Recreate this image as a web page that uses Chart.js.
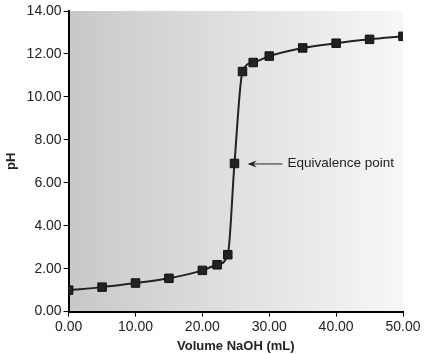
<!DOCTYPE html>
<html>
<head>
<meta charset="utf-8">
<script src="https://cdn.jsdelivr.net/npm/chart.js@4"></script>
<style>
  html, body { margin: 0; padding: 0; background: #fff; }
  #wrap { width: 424px; height: 354px; }
</style>
</head>
<body>
<div id="wrap"><canvas id="chart" width="424" height="354"></canvas></div>
<script>
const volumes = [0, 5, 10, 15, 20, 22.2, 23.8, 24.8, 26, 27.6, 30, 35, 40, 45, 50]
const phValues = [1.0, 1.14, 1.33, 1.55, 1.92, 2.18, 2.65, 6.9, 11.18, 11.6, 11.9, 12.28, 12.5, 12.68, 12.82]
const xTicks = [0, 10, 20, 30, 40, 50]
const yTicks = [0, 2, 4, 6, 8, 10, 12, 14]
const equivalenceIndex = 7
const equivalenceLabel = 'Equivalence point'

const tickFont = { family: 'Liberation Sans, Arial, sans-serif', size: 14 }
const titleFont = { family: 'Liberation Sans, Arial, sans-serif', size: 13, weight: 'bold' }

const shadedArea = {
  id: 'shadedArea',
  beforeDraw(chart) {
    const { ctx, chartArea: a } = chart
    const g = ctx.createLinearGradient(a.left, 0, a.right, 0)
    g.addColorStop(0, '#c8c8c8')
    g.addColorStop(0.5, '#e0e0e0')
    g.addColorStop(1, '#f7f7f7')
    ctx.save()
    ctx.fillStyle = g
    ctx.fillRect(a.left, a.top, a.right - a.left, a.bottom - a.top)
    ctx.restore()
  },
}

const equivalenceNote = {
  id: 'equivalenceNote',
  afterDatasetsDraw(chart) {
    const { ctx, scales } = chart
    const px = scales.x.getPixelForValue(volumes[equivalenceIndex])
    const py = scales.y.getPixelForValue(phValues[equivalenceIndex])
    const tip = px + 13
    const tail = px + 48
    ctx.save()
    ctx.strokeStyle = '#222'
    ctx.fillStyle = '#222'
    ctx.lineWidth = 1
    ctx.beginPath()
    ctx.moveTo(tip + 3, py + 0.5)
    ctx.lineTo(tail, py + 0.5)
    ctx.stroke()
    ctx.beginPath()
    ctx.moveTo(tip, py + 0.5)
    ctx.lineTo(tip + 9, py - 3)
    ctx.lineTo(tip + 6, py + 0.5)
    ctx.lineTo(tip + 9, py + 4)
    ctx.closePath()
    ctx.fill()
    ctx.font = '13.5px Liberation Sans, Arial, sans-serif'
    ctx.textBaseline = 'middle'
    ctx.fillText(equivalenceLabel, tail + 5, py)
    ctx.restore()
  },
}

new Chart(document.getElementById('chart').getContext('2d'), {
  type: 'line',
  data: {
    datasets: [
      {
        data: volumes.map((v, i) => ({ x: v, y: phValues[i] })),
        borderColor: '#222',
        backgroundColor: '#222',
        borderWidth: 2,
        pointStyle: 'rect',
        pointRadius: 6,
        pointBorderWidth: 1,
        pointBorderColor: '#111',
        cubicInterpolationMode: 'monotone',
      },
    ],
  },
  options: {
    responsive: false,
    animation: false,
    layout: { padding: { top: 11, right: 21, left: 4, bottom: 0 } },
    plugins: { legend: { display: false }, tooltip: { enabled: false } },
    scales: {
      x: {
        type: 'linear',
        min: 0,
        max: 50,
        afterBuildTicks: axis => { axis.ticks = xTicks.map(v => ({ value: v })) },
        ticks: { color: '#222', font: tickFont, padding: 2, maxRotation: 0, callback: v => v.toFixed(2) },
        grid: { display: true, drawOnChartArea: false, drawTicks: true, tickLength: 5, color: '#000' },
        border: { display: true, color: '#000', width: 2 },
        title: { display: true, text: 'Volume NaOH (mL)', color: '#222', font: titleFont, padding: { top: 1, bottom: 0 } },
      },
      y: {
        type: 'linear',
        min: 0,
        max: 14,
        afterBuildTicks: axis => { axis.ticks = yTicks.map(v => ({ value: v })) },
        ticks: { color: '#222', font: tickFont, padding: 2, callback: v => v.toFixed(2) },
        grid: { display: true, drawOnChartArea: false, drawTicks: true, tickLength: 5, color: '#000' },
        border: { display: true, color: '#000', width: 2 },
        title: { display: true, text: 'pH', color: '#222', font: titleFont, padding: { top: 0, bottom: 5 } },
      },
    },
  },
  plugins: [shadedArea, equivalenceNote],
})
</script>
</body>
</html>
